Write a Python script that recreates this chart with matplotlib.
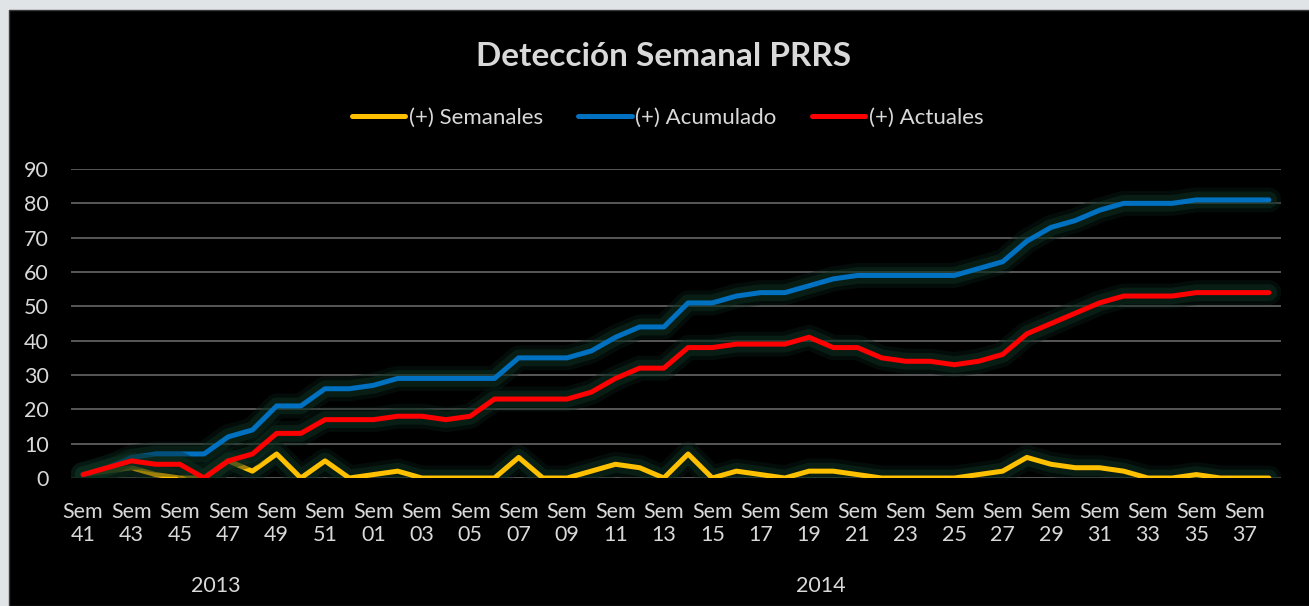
import matplotlib.pyplot as plt
import matplotlib.patheffects as pe
from matplotlib.patches import Rectangle

# DATA
weeks_2013 = ['41', '42', '43', '44', '45', '46', '47', '48', '49', '50', '51', '52']
weeks_2014 = ['%02d' % w for w in range(1, 39)]
week_labels = weeks_2013 + weeks_2014

semanales = [1, 2, 3, 1, 0, 0, 5, 2, 7, 0, 5, 0,
             1, 2, 0, 0, 0, 0, 6, 0, 0, 2, 4, 3, 0, 7, 0, 2, 1, 0,
             2, 2, 1, 0, 0, 0, 0, 1, 2, 6, 4, 3, 3, 2, 0, 0, 1, 0, 0, 0]
acumulado = [1, 3, 6, 7, 7, 7, 12, 14, 21, 21, 26, 26,
             27, 29, 29, 29, 29, 29, 35, 35, 35, 37, 41, 44, 44, 51, 51, 53, 54, 54,
             56, 58, 59, 59, 59, 59, 59, 61, 63, 69, 73, 75, 78, 80, 80, 80, 81, 81, 81, 81]
actuales = [1, 3, 5, 4, 4, 0, 5, 7, 13, 13, 17, 17,
            17, 18, 18, 17, 18, 23, 23, 23, 23, 25, 29, 32, 32, 38, 38, 39, 39, 39,
            41, 38, 38, 35, 34, 34, 33, 34, 36, 42, 45, 48, 51, 53, 53, 53, 54, 54, 54, 54]

years = ['2013', '2014']

TEXT = '#d9d9d9'
FS = 15.5
plt.rcParams['font.family'] = ['Lato', 'DejaVu Sans']

fig = plt.figure(figsize=(13.09, 6.06), dpi=100, facecolor='#e1e4e7')
# black chart area (grey frame visible on top and left)
fig.patches.append(Rectangle((9 / 1309, 0), 1, 1 - 10 / 606, transform=fig.transFigure,
                             facecolor='black', edgecolor='#3a3a3a', linewidth=1, zorder=-5))

ax = fig.add_axes([0.0542, 0.2112, 0.9244, 0.5099])
ax.set_facecolor('black')

x = list(range(len(week_labels)))
# soft green glow like the spreadsheet effect
glow = [pe.Stroke(linewidth=18, foreground='#082017', alpha=0.4),
        pe.Stroke(linewidth=12, foreground='#0f3524', alpha=0.45),
        pe.Normal()]

ax.plot(x, semanales, color='#FFC000', lw=3.6, label='(+) Semanales', path_effects=glow,
        solid_joinstyle='round', solid_capstyle='round', zorder=3)
ax.plot(x, acumulado, color='#0070C0', lw=3.6, label='(+) Acumulado', path_effects=glow,
        solid_joinstyle='round', solid_capstyle='round', zorder=4)
ax.plot(x, actuales, color='#FF0000', lw=3.6, label='(+) Actuales', path_effects=glow,
        solid_joinstyle='round', solid_capstyle='round', zorder=5)

ax.set_xlim(-0.5, len(week_labels) - 0.5)
ax.set_ylim(0, 90)
ax.set_yticks(range(0, 91, 10))
ax.grid(axis='y', color='#5f5f5f', linewidth=1.3)
ax.set_axisbelow(True)
for s in ax.spines.values():
    s.set_visible(False)

ax.set_xticks(x[::2])
ax.set_xticklabels(['Sem\n' + w for w in week_labels[::2]], linespacing=1.2)
ax.tick_params(axis='x', length=0, pad=17, colors=TEXT, labelsize=FS)
ax.tick_params(axis='y', length=0, pad=16, colors=TEXT, labelsize=FS)

# year labels under the week labels
n13 = len(weeks_2013)
ax.text((n13 - 1) / 2, -31.5, years[0], color=TEXT, fontsize=FS, ha='center', va='center')
ax.text(n13 + (len(weeks_2014) - 1) / 2, -31.5, years[1], color=TEXT, fontsize=FS,
        ha='center', va='center')

fig.text(0.507, 0.906, 'Detección Semanal PRRS', color=TEXT, fontsize=24,
         fontweight='bold', ha='center', va='center')

leg = fig.legend(loc='center', bbox_to_anchor=(0.51, 1 - 118 / 606), ncol=3, frameon=False,
                 fontsize=16, handlelength=2.4, handletextpad=0.15, columnspacing=1.6)
for t in leg.get_texts():
    t.set_color(TEXT)
for l in leg.get_lines():
    l.set_path_effects([])

fig.savefig('out.png', dpi=100, facecolor=fig.get_facecolor())
